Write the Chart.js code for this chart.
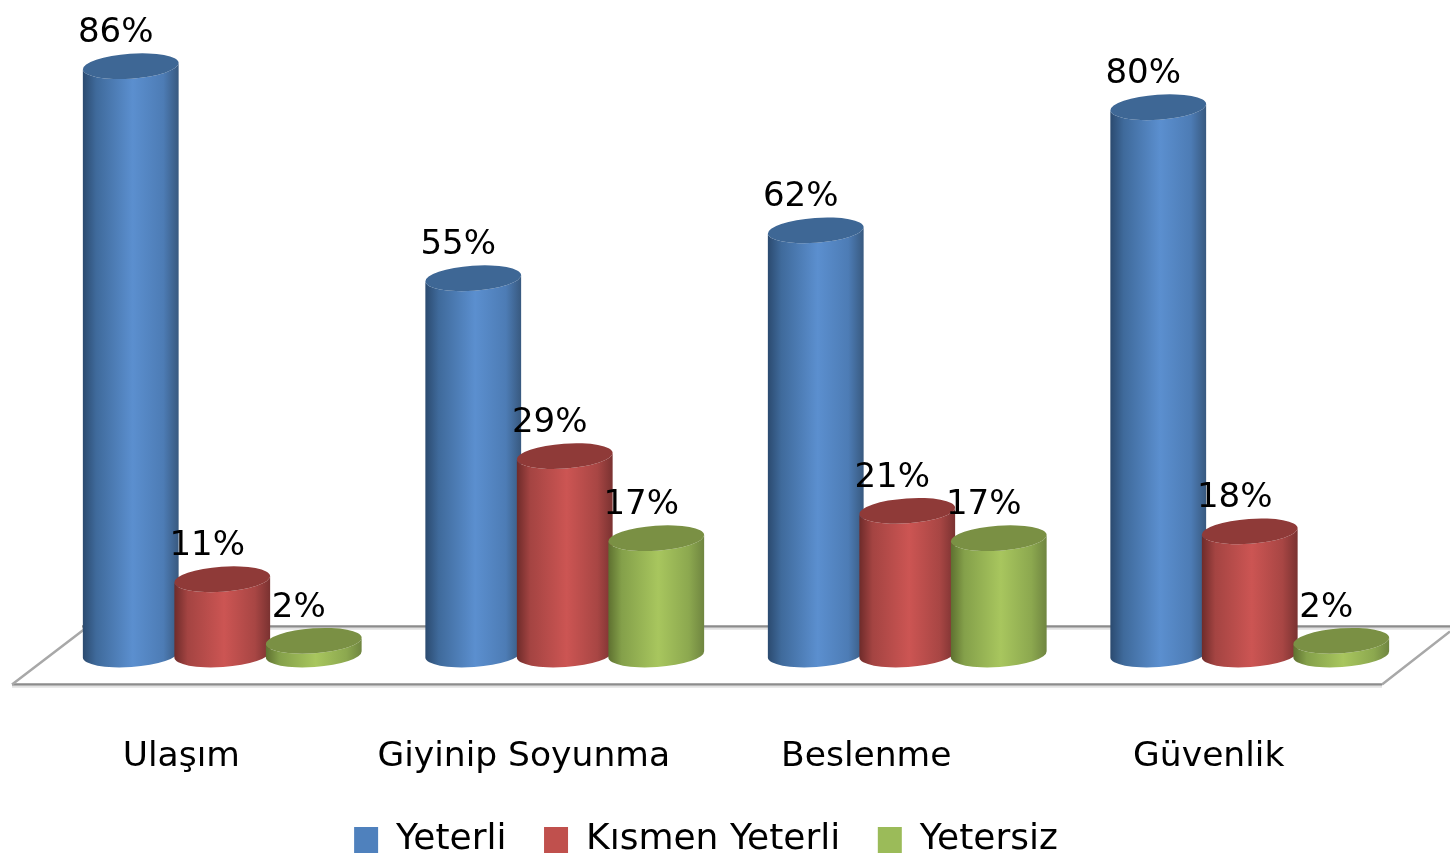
<!DOCTYPE html>
<html><head><meta charset="utf-8">
<style>html,body{margin:0;padding:0;background:#fff}canvas{display:block;filter:blur(0.6px)}</style>
<script src="https://cdn.jsdelivr.net/npm/chart.js@4"></script>
</head><body><canvas id="c" width="1450" height="857"></canvas>
<script>
const categories = ["Ulaşım", "Giyinip Soyunma", "Beslenme", "Güvenlik"];
const yeterli = [86, 55, 62, 80];
const kismen = [11, 29, 21, 18];
const yetersiz = [2, 17, 17, 2];
const seriesNames = ["Yeterli", "Kısmen Yeterli", "Yetersiz"];
const legendColors = ["#4F81BD", "#C0504D", "#9BBB59"];
const topColors = ["#3E6795", "#8F3A38", "#7A9044"];
const bodyStops = [
  ["#2B4A6F", "#3F6A9B", "#5B8FCF", "#4D7CB5", "#38597F"],
  ["#6E2B2A", "#A44442", "#CC5553", "#A84644", "#7A3231"],
  ["#5E7030", "#84A04A", "#A8C65E", "#8CA84F", "#6F8540"]
];
const FONT = '"DejaVu Sans"';

const scene = {
  id: 'scene',
  beforeDatasetsDraw(chart) {
    const ctx = chart.ctx, y0 = chart.scales.y.getPixelForValue(0);
    ctx.save();
    const top = y0 - 28, bot = y0 + 30;
    ctx.lineWidth = 2.5; ctx.strokeStyle = '#8c8c8c';
    ctx.beginPath();
    ctx.moveTo(12, bot); ctx.lineTo(1382, bot);
    ctx.moveTo(1450, top); ctx.lineTo(82, top);
    ctx.stroke();
    ctx.lineWidth = 2; ctx.strokeStyle = '#e2e2e2';
    ctx.beginPath();
    ctx.moveTo(12, bot + 2.2); ctx.lineTo(1382, bot + 2.2);
    ctx.moveTo(1450, top + 2.2); ctx.lineTo(82, top + 2.2);
    ctx.stroke();
    ctx.lineWidth = 2.5; ctx.strokeStyle = '#a8a8a8';
    ctx.beginPath();
    ctx.moveTo(12, bot); ctx.lineTo(84, top + 3);
    ctx.moveTo(1382, bot); ctx.lineTo(1450, top + 5);
    ctx.stroke();
    ctx.restore();
  },
  beforeDatasetDraw() { return false; },
  afterDatasetsDraw(chart) {
    const ctx = chart.ctx, y0 = chart.scales.y.getPixelForValue(0);
    const ry = 12.5, tilt = -0.07;
    chart.data.datasets.forEach((ds, di) => {
      chart.getDatasetMeta(di).data.forEach((bar, i) => {
        const cx = bar.x, w = bar.width + 4.5, rx = w / 2, yt = bar.y;
        const g = ctx.createLinearGradient(cx - rx, 0, cx + rx, 0);
        const st = bodyStops[di];
        g.addColorStop(0, st[0]); g.addColorStop(0.14, st[1]); g.addColorStop(0.52, st[2]);
        g.addColorStop(0.84, st[3]); g.addColorStop(1, st[4]);
        ctx.save();
        ctx.fillStyle = g;
        ctx.beginPath();
        ctx.ellipse(cx, y0, rx, ry, tilt, 0, Math.PI);
        ctx.ellipse(cx, yt, rx, ry, tilt, Math.PI, 0, true);
        ctx.closePath();
        ctx.fill();
        ctx.fillStyle = topColors[di];
        ctx.beginPath();
        ctx.ellipse(cx, yt, rx, ry, tilt, 0, Math.PI * 2);
        ctx.fill();
        ctx.restore();
      });
    });
    chart.data.datasets.forEach((ds, di) => {
      chart.getDatasetMeta(di).data.forEach((bar, i) => {
        ctx.save();
        ctx.font = '34px ' + FONT;
        ctx.fillStyle = '#000';
        ctx.textAlign = 'center';
        ctx.textBaseline = 'middle';
        ctx.fillText(ds.data[i] + '%', bar.x - 15, bar.y - 33);
        ctx.restore();
      });
    });
  }
};

new Chart(document.getElementById('c'), {
  type: 'bar',
  data: {
    labels: categories,
    datasets: [yeterli, kismen, yetersiz].map((d, i) => ({
      label: seriesNames[i], data: d, backgroundColor: legendColors[i], borderWidth: 0
    }))
  },
  options: {
    responsive: false,
    animation: false,
    layout: { padding: { left: -9, right: 29, top: 32, bottom: -11 } },
    datasets: { bar: { barPercentage: 1, categoryPercentage: 0.8015 } },
    plugins: {
      tooltip: { enabled: false },
      legend: {
        position: 'bottom',
        labels: {
          boxWidth: 24, boxHeight: 26, padding: 37.5, color: '#000',
          font: { family: FONT, size: 36 }
        }
      }
    },
    scales: {
      x: {
        grid: { display: false, drawTicks: false }, border: { display: false },
        afterFit(s) { s.height = 130; },
        ticks: { padding: 82, labelOffset: -41, color: '#000', maxRotation: 0, autoSkip: false,
                 font: { family: FONT, size: 34.5 } }
      },
      y: {
        min: 0, max: 91,
        grid: { display: false, drawTicks: false }, border: { display: false },
        afterFit(s) { s.width = 60; },
        ticks: { color: 'rgba(0,0,0,0)', display: false }
      }
    }
  },
  plugins: [scene]
});
</script></body></html>
